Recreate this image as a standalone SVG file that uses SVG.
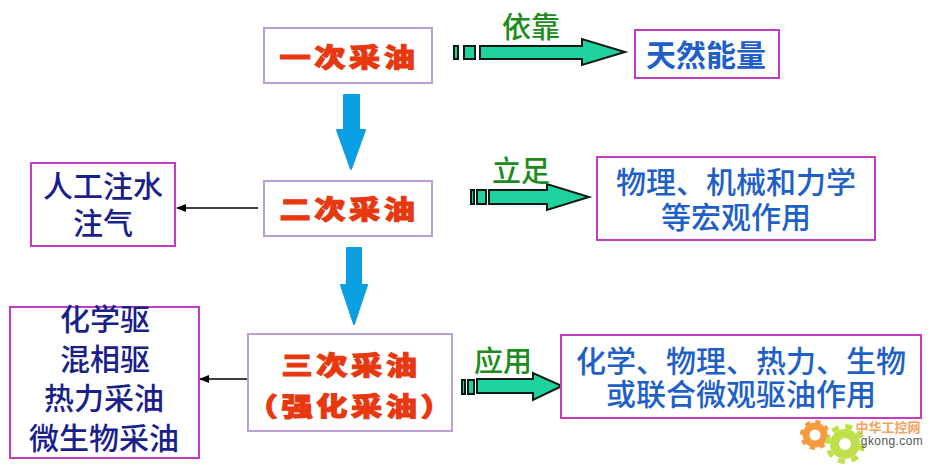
<svg xmlns="http://www.w3.org/2000/svg" width="935" height="472" viewBox="0 0 935 472">
<defs>
<style>
text{font-family:"Noto Sans CJK SC","Noto Sans",sans-serif;text-anchor:middle}
.pb{fill:#fff;stroke:#b9a0d8;stroke-width:2}
.mb{fill:#fff;stroke:#c23cc4;stroke-width:2}
.red{fill:#e8380f;font-size:26px;font-weight:900;letter-spacing:3px;stroke:#e8380f;stroke-width:1}
.blue{fill:#1f5fc8;font-size:30px;font-weight:500}
.navy{fill:#1a1f8c;font-size:30px;font-weight:500}
.green{fill:#1c8c1c;font-size:29px;font-weight:500}
.ga{fill:#1fd3a0;stroke:#0b1a10;stroke-width:2}
.ba{fill:#0a9fe2;stroke:#0a9fe2;stroke-width:2;stroke-linejoin:round}
</style>
<marker id="ah" markerWidth="10" markerHeight="8" refX="9" refY="4" orient="auto" markerUnits="userSpaceOnUse"><path d="M0 0L10 4L0 8Z" fill="#000"/></marker>
</defs>
<rect width="935" height="472" fill="#fff"/>
<g id="connectors">
<path class="ba" d="M344 95H359V130H365L351 169L337 130H344Z"/>
<path class="ba" d="M347 248H361V285H367L354 324L341 285H347Z"/>
<line x1="258" y1="208" x2="177" y2="208" stroke="#000" stroke-width="1.3" marker-end="url(#ah)"/>
<line x1="257" y1="379" x2="200" y2="379" stroke="#000" stroke-width="1.3" marker-end="url(#ah)"/>
<g id="arrow-1"><rect class="ga" x="454" y="46" width="4" height="13"/><rect class="ga" x="464" y="46" width="11" height="13"/><path class="ga" d="M480 46H582V39L625 52L582 65V59H480Z"/></g>
<g id="arrow-2"><rect class="ga" x="471" y="190" width="3" height="14"/><rect class="ga" x="477" y="190" width="9" height="14"/><path class="ga" d="M489 190H547V184L589 197L547 210V204H489Z"/></g>
<g id="arrow-3"><rect class="ga" x="462" y="380" width="3" height="14"/><rect class="ga" x="468" y="380" width="6" height="14"/><path class="ga" d="M477 379H533V373L562 386L533 400V393H477Z"/></g>
</g>
<g id="n1"><rect class="pb" x="264" y="28" width="168" height="55"/><text class="red" transform="translate(349 67) scale(1.2 1)">一次采油</text></g>
<g id="n2"><rect class="pb" x="264" y="181" width="168" height="55"/><text class="red" transform="translate(349 219) scale(1.2 1)">二次采油</text></g>
<g id="n3"><rect class="pb" x="248" y="334" width="204" height="97"/><text class="red" transform="translate(351 375) scale(1.2 1)">三次采油</text><text class="red" transform="translate(351 416) scale(1.2 1)">（强化采油）</text></g>
<g id="l1"><text class="green" x="531" y="38">依靠</text></g>
<g id="l2"><text class="green" x="521" y="182">立足</text></g>
<g id="l3"><text class="green" x="503" y="372">应用</text></g>
<g id="t1"><rect class="mb" x="635" y="30" width="144" height="48"/><text class="blue" x="706" y="66" font-weight="700" style="font-weight:700">天然能量</text></g>
<g id="t2"><rect class="mb" x="597" y="157" width="278" height="83"/><text class="blue" x="736" y="193">物理、机械和力学</text><text class="blue" x="736" y="228">等宏观作用</text></g>
<g id="t3"><rect class="mb" x="561" y="335" width="360" height="83"/><text class="blue" x="741" y="372">化学、物理、热力、生物</text><text class="blue" x="741" y="405">或联合微观驱油作用</text></g>
<g id="s1"><rect class="mb" x="31" y="163" width="144" height="83"/><text class="navy" x="103" y="197">人工注水</text><text class="navy" x="103" y="234">注气</text></g>
<g id="s2"><rect class="mb" x="10" y="307" width="189" height="151"/><text class="navy" x="105" y="330">化学驱</text><text class="navy" x="105" y="370">混相驱</text><text class="navy" x="104" y="409">热力采油</text><text class="navy" x="104" y="449">微生物采油</text></g>
<g id="watermark">
<circle cx="815" cy="435" r="9" fill="none" stroke="#f79a3e" stroke-width="7"/><circle cx="815" cy="435" r="13" fill="none" stroke="#f79a3e" stroke-width="4" stroke-dasharray="5 5.2"/>
<circle cx="845" cy="444" r="10.5" fill="none" stroke="#bfe04a" stroke-width="9"/><circle cx="845" cy="444" r="17.5" fill="none" stroke="#bfe04a" stroke-width="5" stroke-dasharray="7 6.7"/>
<text x="888" y="432" font-size="13" font-weight="700" fill="#f5a35a">中华工控网</text>
<text x="892" y="445" font-size="12" fill="#555" style="font-family:'Liberation Sans',sans-serif" letter-spacing=".4">gkong.com</text>
</g>
</svg>
